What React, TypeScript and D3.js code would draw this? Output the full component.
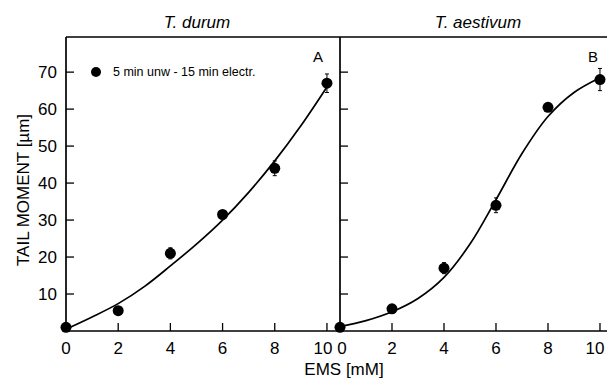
import React from "react";
import { scaleLinear, line, curveCatmullRom } from "d3";

// measured points (EMS mM vs tail moment)
const doses = [0, 2, 4, 6, 8, 10];
const durumMean = [1, 5.5, 21, 31.5, 44, 67];
const durumErr = [0, 0, 1.5, 0.8, 2, 2.5];
const aestivumMean = [1, 6, 17, 34, 60.5, 68];
const aestivumErr = [0, 0.8, 1.5, 2, 1, 3];

// fitted curves, read at each 1 mM
const fitDoses = [0, 1, 2, 3, 4, 5, 6, 7, 8, 9, 10];
const durumFit = [0.5, 3.8, 7.4, 12, 17.6, 23.5, 30, 37.5, 46, 55.5, 66];
const aestivumFit = [1.2, 2.8, 5.2, 8.8, 14.5, 23.5, 35.5, 48, 58, 64.5, 68.5];

const xTicks = [0, 2, 4, 6, 8, 10];
const yTicks = [10, 20, 30, 40, 50, 60, 70];

const font = "'Liberation Sans', Arial, sans-serif";

type PanelProps = {
  x0: number;
  x1: number;
  xMax: number;
  mean: number[];
  err: number[];
  fit: number[];
  title: string;
  letter: string;
  letterX: number;
  titleX: number;
  leftLabels: boolean;
  legend?: boolean;
};

const y = scaleLinear().domain([0, 79.5]).range([331, 37]);

const Panel = (p: PanelProps) => {
  const x = scaleLinear().domain([0, p.xMax]).range([p.x0, p.x1]);
  const path = line<number>()
    .x((_, i) => x(fitDoses[i]))
    .y((d) => y(d))
    .curve(curveCatmullRom.alpha(0.5))(p.fit);
  // the "10" of panel A and the "0" of panel B nearly touch; nudge them apart,
  // and keep panel B's "10" inside the frame
  const nudge = (t: number) => {
    if (p.leftLabels) return t === 10 ? -4 : 0;
    if (t === 0) return 2;
    if (t === 10) return -5;
    return 0;
  };
  return (
    <g>
      <line x1={p.x0} x2={p.x1} y1={y(0)} y2={y(0)} stroke="#000" strokeWidth={1.7} />
      <line x1={p.x0} x2={p.x1} y1={37} y2={37} stroke="#000" strokeWidth={1.7} />
      <line x1={p.x0} x2={p.x0} y1={37} y2={y(0)} stroke="#000" strokeWidth={1.7} />
      {yTicks.map((t) => (
        <g key={t}>
          <line x1={p.x0} x2={p.x0 + 8} y1={y(t)} y2={y(t)} stroke="#000" strokeWidth={1.3} />
          {p.leftLabels && (
            <text x={p.x0 - 9} y={y(t) + 6} textAnchor="end" fontSize={17} fontFamily={font}>
              {t}
            </text>
          )}
        </g>
      ))}
      {xTicks.map((t) => (
        <g key={t}>
          <line x1={x(t)} x2={x(t)} y1={y(0)} y2={y(0) - 8} stroke="#000" strokeWidth={1.3} />
          <text
            x={x(t) + nudge(t)}
            y={y(0) + 23}
            textAnchor="middle"
            fontSize={17}
            fontFamily={font}
          >
            {t}
          </text>
        </g>
      ))}
      <path d={path || ""} fill="none" stroke="#000" strokeWidth={1.7} />
      {doses.map((d, i) => (
        <g key={d}>
          {p.err[i] > 0 && (
            <g stroke="#000" strokeWidth={1}>
              <line x1={x(d)} x2={x(d)} y1={y(p.mean[i] - p.err[i])} y2={y(p.mean[i] + p.err[i])} />
              <line x1={x(d) - 2} x2={x(d) + 2} y1={y(p.mean[i] + p.err[i])} y2={y(p.mean[i] + p.err[i])} />
              <line x1={x(d) - 2} x2={x(d) + 2} y1={y(p.mean[i] - p.err[i])} y2={y(p.mean[i] - p.err[i])} />
            </g>
          )}
          <circle cx={x(d)} cy={y(p.mean[i])} r={5.5} fill="#000" />
        </g>
      ))}
      <text x={p.titleX} y={28} textAnchor="middle" fontSize={17} fontStyle="italic" fontFamily={font}>
        {p.title}
      </text>
      <text x={p.letterX} y={62} textAnchor="middle" fontSize={15} fontFamily={font}>
        {p.letter}
      </text>
      {p.legend && (
        <g>
          <circle cx={96} cy={72} r={5} fill="#000" />
          <text x={113} y={76} fontSize={12.5} fontFamily={font}>
            5 min unw  - 15 min electr.
          </text>
        </g>
      )}
    </g>
  );
};

export default function App() {
  return (
    <svg
      width={607}
      height={380}
      style={{ position: "absolute", left: 0, top: 0, background: "#fff" }}
    >
      <Panel
        x0={66}
        x1={340}
        xMax={10.5}
        mean={durumMean}
        err={durumErr}
        fit={durumFit}
        title="T. durum"
        titleX={197}
        letter="A"
        letterX={318}
        leftLabels={true}
        legend={true}
      />
      <Panel
        x0={340}
        x1={607}
        xMax={10.27}
        mean={aestivumMean}
        err={aestivumErr}
        fit={aestivumFit}
        title="T. aestivum"
        titleX={478}
        letter="B"
        letterX={593}
        leftLabels={false}
      />
      <text
        transform="translate(29,190) rotate(-90)"
        textAnchor="middle"
        fontSize={17}
        fontFamily={font}
      >
        TAIL MOMENT [µm]
      </text>
      <text x={344} y={375} textAnchor="middle" fontSize={17} fontFamily={font}>
        EMS [mM]
      </text>
    </svg>
  );
}
